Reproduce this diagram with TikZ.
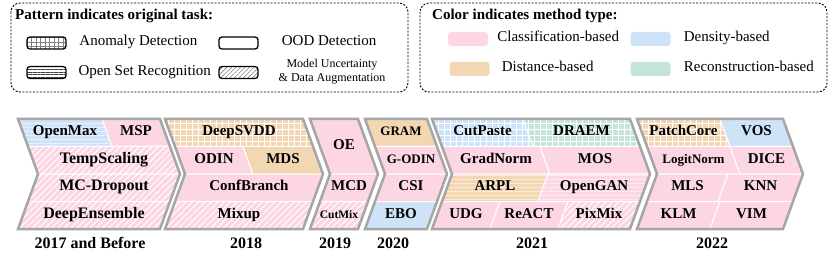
\documentclass[tikz,border=0pt]{standalone}
\usepackage{fontspec}
\setmainfont{Liberation Serif}
\usetikzlibrary{patterns.meta, positioning}

\definecolor{clspink}{RGB}{252,214,227}
\definecolor{denblue}{RGB}{206,226,248}
\definecolor{disorange}{RGB}{243,214,178}
\definecolor{recgreen}{RGB}{196,228,220}
\definecolor{framegray}{RGB}{166,166,166}

\tikzset{
  cellbox/.style={draw=white, line width=1pt},
  cls/.style={fill=clspink},
  den/.style={fill=denblue},
  dis/.style={fill=disorange},
  rec/.style={fill=recgreen},
  adpat/.style={postaction={pattern={Hatch[distance=6pt, line width=0.8pt]}, pattern color=white}},
  osrpat/.style={postaction={pattern={Lines[angle=0, distance=4pt, line width=0.8pt]}, pattern color=white}},
  mupat/.style={postaction={pattern={Lines[angle=45, distance=4.5pt, line width=1pt]}, pattern color=white}},
  celltext/.style={font=\fontsize{15}{15}\selectfont\bfseries, inner sep=0pt, text height=1.5ex, text depth=.25ex},
  bigtext/.style={font=\fontsize{16}{16}\selectfont\bfseries},
  smalltext/.style={font=\fontsize{13}{13}\selectfont\bfseries},
  tinytext/.style={font=\fontsize{11.5}{11.5}\selectfont\bfseries},
  frame/.style={draw=framegray, line width=2.5pt},
  yearlabel/.style={font=\fontsize{16}{16}\selectfont\bfseries, inner sep=0pt, text height=1.5ex, text depth=.25ex},
  legendbox/.style={draw=black, line width=0.9pt, dash pattern=on 2pt off 1.5pt, rounded corners=9pt},
  legendtitle/.style={font=\fontsize{15}{15}\selectfont\bfseries, anchor=west, inner sep=0pt, text height=1.5ex, text depth=.25ex},
  keytext/.style={font=\fontsize{15}{15}\selectfont, inner sep=0pt, text height=1.5ex, text depth=.25ex},
  taskkey/.style={draw=black, line width=1.3pt, rounded corners=3pt, minimum width=39pt, minimum height=12pt, inner sep=0pt},
  typekey/.style={rounded corners=3pt, minimum width=40pt, minimum height=14pt, inner sep=0pt},
}

% row geometry: top/bottom y and chevron shift
\newcommand{\rowgeom}[1]{%
  \ifcase#1\or
    \def\cellTop{119}\def\cellBot{146.5}\def\shiftTop{0}\def\shiftBot{10}\or
    \def\cellTop{146.5}\def\cellBot{174}\def\shiftTop{10}\def\shiftBot{20}\or
    \def\cellTop{174}\def\cellBot{201.5}\def\shiftTop{20}\def\shiftBot{10}\or
    \def\cellTop{201.5}\def\cellBot{229}\def\shiftTop{10}\def\shiftBot{0}\or
    \def\cellTop{119}\def\cellBot{174}\def\shiftTop{0}\def\shiftBot{20}\fi}

% \mcell[text opts]{block x}{from}{to}{row}{fill}{name}{text}
\newcommand{\mcell}[8][]{%
  \rowgeom{#5}%
  \path[cellbox, #6] ({#2+#3+\shiftTop}, \cellTop) -- ({#2+#4+\shiftTop}, \cellTop)
    -- ({#2+#4+\shiftBot}, \cellBot) -- ({#2+#3+\shiftBot}, \cellBot) -- cycle;
  \node[celltext, #1] (#7) at ({#2+(#3+#4)/2+(\shiftTop+\shiftBot)/2}, {(\cellTop+\cellBot)/2}) {#8};}

\begin{document}
\begin{tikzpicture}[x=1pt, y=-1pt]
  \useasboundingbox (0,0) rectangle (830,267);

  % legend: original task
  \draw[legendbox] (11,3) rectangle (408,92);
  \node[legendtitle] (tasktitle) at (15,17) {Pattern indicates original task:};
  \node[taskkey, pattern={Hatch[distance=4.5pt, line width=0.5pt]}, pattern color=gray] (adkey) at (46.5,43) {};
  \node[keytext, right=13pt of adkey] (adtext) {Anomaly Detection};
  \node[taskkey, pattern={Lines[angle=0, distance=2.6pt, line width=0.6pt]}, pattern color=darkgray] (osrkey) at (46.5,72.5) {};
  \node[keytext, right=12pt of osrkey] (osrtext) {Open Set Recognition};
  \node[taskkey] (oodkey) at (238.5,43) {};
  \node[keytext, right=23pt of oodkey] (oodtext) {OOD Detection};
  \node[taskkey, pattern={Lines[angle=45, distance=3.2pt, line width=0.6pt]}, pattern color=gray] (mukey) at (238.5,72.5) {};
  \node[font=\fontsize{12}{13.5}\selectfont, align=center, inner sep=0pt] (mutext) at (332,71.5)
    {Model Uncertainty\\ \& Data Augmentation};

  % legend: method type
  \draw[legendbox] (420,3) rectangle (827,92);
  \node[legendtitle] (typetitle) at (432,17) {Color indicates method type:};
  \node[typekey, fill=clspink] (clskey) at (468,39) {};
  \node[keytext, right=9pt of clskey] (clstext) {Classification-based};
  \node[typekey, fill=denblue] (denkey) at (650.5,39) {};
  \node[keytext, right=13pt of denkey] (dentext) {Density-based};
  \node[typekey, fill=disorange] (diskey) at (469.5,69) {};
  \node[keytext, right=12pt of diskey] (distext) {Distance-based};
  \node[typekey, fill=recgreen] (reckey) at (650.5,69) {};
  \node[keytext, right=13pt of reckey] (rectext) {Reconstruction-based};

  % 2017 and before
  \mcell{18}{0}{84}{1}{den, osrpat}{openmax}{OpenMax}
  \mcell{18}{84}{142}{1}{cls}{msp}{MSP}
  \mcell[bigtext]{18}{0}{142}{2}{cls, mupat}{tempscaling}{TempScaling}
  \mcell[bigtext]{18}{0}{142}{3}{cls, mupat}{mcdropout}{MC-Dropout}
  \mcell[bigtext]{18}{0}{142}{4}{cls, mupat}{deepensemble}{DeepEnsemble}

  % 2018
  \mcell{165}{0}{138}{1}{dis, adpat}{deepsvdd}{DeepSVDD}
  \mcell{165}{0}{68}{2}{cls}{odin}{ODIN}
  \mcell{165}{68}{138}{2}{dis}{mds}{MDS}
  \mcell{165}{0}{138}{3}{cls}{confbranch}{ConfBranch}
  \mcell{165}{0}{138}{4}{cls, mupat}{mixup}{Mixup}

  % 2019
  \mcell{310}{0}{48}{5}{cls}{oe}{OE}
  \mcell{310}{0}{48}{3}{cls}{mcd}{MCD}
  \mcell[tinytext]{310}{0}{48}{4}{cls, mupat}{cutmix}{CutMix}

  % 2020
  \mcell[smalltext]{365}{0}{62}{1}{dis}{gram}{GRAM}
  \mcell[smalltext]{365}{0}{62}{2}{cls}{godin}{G-ODIN}
  \mcell{365}{0}{62}{3}{cls}{csi}{CSI}
  \mcell{365}{0}{62}{4}{den}{ebo}{EBO}

  % 2021
  \mcell{432}{0}{91}{1}{den, adpat}{cutpaste}{CutPaste}
  \mcell{432}{91}{198}{1}{rec, adpat}{draem}{DRAEM}
  \mcell{432}{0}{98}{2}{cls}{gradnorm}{GradNorm}
  \mcell{432}{98}{198}{2}{cls}{mos}{MOS}
  \mcell{432}{0}{96}{3}{dis, osrpat}{arpl}{ARPL}
  \mcell{432}{96}{198}{3}{cls, osrpat}{opengan}{OpenGAN}
  \mcell{432}{0}{58}{4}{cls}{udg}{UDG}
  \mcell{432}{58}{126}{4}{cls}{react}{ReACT}
  \mcell{432}{126}{198}{4}{cls, mupat}{pixmix}{PixMix}

  % 2022
  \mcell{637}{0}{83}{1}{dis, adpat}{patchcore}{PatchCore}
  \mcell{637}{83}{146}{1}{den}{vos}{VOS}
  \mcell[smalltext]{637}{0}{83}{2}{cls}{logitnorm}{LogitNorm}
  \mcell{637}{83}{146}{2}{cls}{dice}{DICE}
  \mcell{637}{0}{71}{3}{cls}{mls}{MLS}
  \mcell{637}{71}{146}{3}{cls}{knn}{KNN}
  \mcell{637}{0}{73}{4}{cls}{klm}{KLM}
  \mcell{637}{73}{146}{4}{cls}{vim}{VIM}

  % chevron frames
  \foreach \bx/\bw in {18/142, 165/138, 310/48, 365/62, 432/198, 637/146}
    \draw[frame] (\bx,119) -- ++(\bw,0) -- ++(20,55) -- ++(-20,55) -- ++(-\bw,0) -- ++(20,-55) -- cycle;

  % years
  \node[yearlabel] (y2017) at (90,246) {2017 and Before};
  \node[yearlabel] (y2018) at (246,246) {2018};
  \node[yearlabel] (y2019) at (335,246) {2019};
  \node[yearlabel] (y2020) at (393,246) {2020};
  \node[yearlabel] (y2021) at (532,246) {2021};
  \node[yearlabel] (y2022) at (712,246) {2022};
\end{tikzpicture}
\end{document}
